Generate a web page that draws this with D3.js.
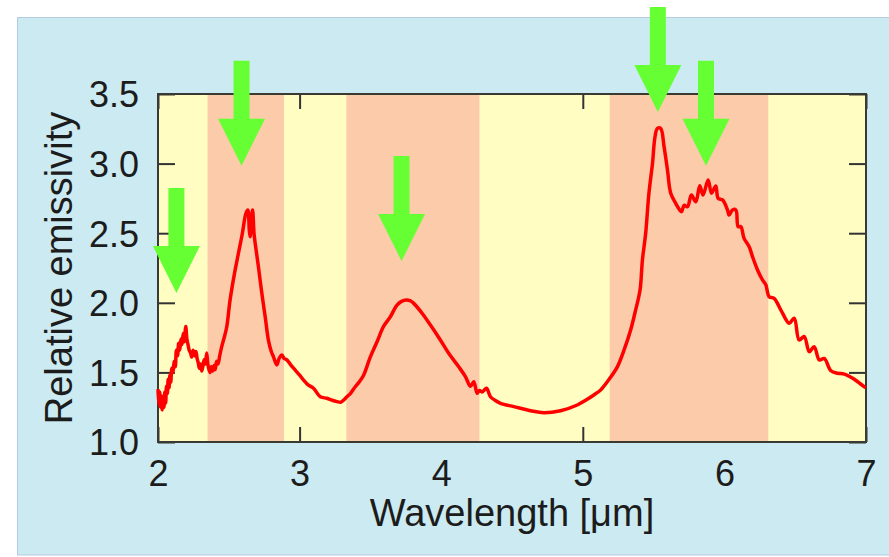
<!DOCTYPE html>
<html>
<head>
<meta charset="utf-8">
<script src="https://cdn.jsdelivr.net/npm/d3@7"></script>
<style>
  html, body { margin: 0; padding: 0; background: #ffffff; }
  svg { display: block; }
  text { font-family: "Liberation Sans", Arial, Helvetica, sans-serif; fill: #1c1c1c; }
</style>
</head>
<body>
<svg id="chart" width="889" height="557"></svg>
<script>
// ---- data ----
const wavelength = [
  2.000, 2.006, 2.012, 2.018, 2.024, 2.030, 2.036, 2.042, 2.048, 2.054,
  2.060, 2.066, 2.072, 2.078, 2.084, 2.090, 2.098, 2.106, 2.114, 2.122,
  2.130, 2.138, 2.146, 2.154, 2.162, 2.170, 2.178, 2.186, 2.196, 2.204,
  2.212, 2.220, 2.230, 2.238, 2.248, 2.258, 2.268, 2.276, 2.284, 2.292,
  2.300, 2.309, 2.318, 2.326, 2.334, 2.344, 2.352, 2.360, 2.368, 2.376,
  2.386, 2.396, 2.404, 2.414, 2.424, 2.436, 2.450, 2.470, 2.486, 2.509,
  2.540, 2.568, 2.596, 2.620, 2.634, 2.645, 2.651, 2.660, 2.668, 2.678,
  2.686, 2.709, 2.733, 2.757, 2.780, 2.800, 2.815, 2.839, 2.855, 2.875,
  2.891, 2.910, 2.940, 2.969, 3.000, 3.028, 3.060, 3.098, 3.146, 3.193,
  3.230, 3.264, 3.290, 3.310, 3.334, 3.360, 3.393, 3.420, 3.452, 3.499,
  3.547, 3.593, 3.641, 3.688, 3.720, 3.754, 3.780, 3.806, 3.865, 3.924,
  3.994, 4.053, 4.124, 4.171, 4.207, 4.230, 4.254, 4.270, 4.289, 4.320,
  4.348, 4.380, 4.419, 4.513, 4.631, 4.725, 4.843, 4.961, 5.020, 5.078,
  5.126, 5.173, 5.244, 5.291, 5.338, 5.373, 5.404, 5.421, 5.444, 5.467,
  5.492, 5.510, 5.527, 5.550, 5.574, 5.598, 5.621, 5.656, 5.697, 5.715,
  5.739, 5.767, 5.798, 5.826, 5.849, 5.885, 5.909, 5.939, 5.956, 5.987,
  6.022, 6.033, 6.057, 6.081, 6.097, 6.116, 6.139, 6.175, 6.199, 6.234,
  6.269, 6.293, 6.316, 6.351, 6.399, 6.458, 6.493, 6.528, 6.564, 6.599,
  6.634, 6.670, 6.705, 6.752, 6.800, 6.847, 6.906, 6.941, 6.988, 7.000
];
const emissivity = [
  1.38, 1.27, 1.36, 1.25, 1.33, 1.23, 1.30, 1.25, 1.36, 1.28,
  1.40, 1.35, 1.45, 1.39, 1.48, 1.43, 1.53, 1.50, 1.58, 1.54,
  1.66, 1.62, 1.71, 1.66, 1.74, 1.70, 1.78, 1.72, 1.83, 1.74,
  1.70, 1.66, 1.64, 1.61, 1.66, 1.62, 1.65, 1.60, 1.57, 1.53,
  1.56, 1.51, 1.55, 1.59, 1.56, 1.64, 1.56, 1.52, 1.50, 1.54,
  1.51, 1.55, 1.52, 1.58, 1.56, 1.62, 1.685, 1.76, 1.83, 2.02,
  2.21, 2.356, 2.50, 2.64, 2.667, 2.52, 2.475, 2.60, 2.667, 2.50,
  2.43, 2.26, 2.07, 1.90, 1.73, 1.65, 1.613, 1.553, 1.60, 1.625,
  1.60, 1.59, 1.55, 1.517, 1.48, 1.445, 1.41, 1.386, 1.325, 1.314,
  1.30, 1.29, 1.285, 1.30, 1.325, 1.35, 1.397, 1.43, 1.48, 1.61,
  1.72, 1.83, 1.90, 1.984, 2.01, 2.02, 2.015, 1.996, 1.925, 1.84,
  1.733, 1.637, 1.54, 1.47, 1.40, 1.433, 1.35, 1.37, 1.36, 1.386,
  1.325, 1.30, 1.278, 1.254, 1.225, 1.21, 1.225, 1.266, 1.30, 1.338,
  1.374, 1.433, 1.54, 1.66, 1.805, 1.948, 2.09, 2.307, 2.50, 2.787,
  3.00, 3.193, 3.253, 3.253, 3.12, 2.954, 2.787, 2.715, 2.654, 2.70,
  2.69, 2.774, 2.726, 2.84, 2.774, 2.882, 2.787, 2.84, 2.75, 2.739,
  2.667, 2.63, 2.667, 2.667, 2.547, 2.547, 2.463, 2.403, 2.33, 2.236,
  2.164, 2.128, 2.044, 2.032, 1.948, 1.853, 1.889, 1.733, 1.757, 1.649,
  1.685, 1.589, 1.60, 1.512, 1.494, 1.488, 1.458, 1.433, 1.397, 1.39
];
const bandStart = [2.35, 3.33, 5.19];
const bandEnd   = [2.89, 4.27, 6.31];
const arrowX = [2.13, 2.59, 3.72, 5.53, 5.87];
const arrowY = [2.07, 2.985, 2.30, 3.37, 2.985];
const xTicks = [2, 3, 4, 5, 6, 7];
const yTicks = [1.0, 1.5, 2.0, 2.5, 3.0, 3.5];
const xTitle = "Wavelength [μm]";
const yTitle = "Relative emissivity";

// ---- layout ----
const W = 889, H = 557;
const L = 158, T = 94, R = 866, B = 442;
const svg = d3.select("#chart");

const x = d3.scaleLinear().domain([2, 7]).range([L, R]);
const y = d3.scaleLinear().domain([1.0, 3.5]).range([B, T]);

// panel
svg.append("rect").attr("x", 17.5).attr("y", 17.5).attr("width", W - 17).attr("height", 537.5)
  .attr("fill", "#cbeaf1").attr("stroke", "#b7cbe0").attr("stroke-width", 1);

// plot background
svg.append("rect").attr("x", L).attr("y", T).attr("width", R - L).attr("height", B - T)
  .attr("fill", "#fffdc2");

// ticks (drawn below the bands)
const tickStyle = g => {
  g.select(".domain").remove();
  g.selectAll(".tick line").attr("stroke", "#333").attr("stroke-width", 2);
};
svg.append("g").attr("transform", `translate(0,${B})`)
  .call(d3.axisBottom(x).tickValues(xTicks).tickSize(-15).tickFormat(""))
  .call(tickStyle);
svg.append("g").attr("transform", `translate(0,${T})`)
  .call(d3.axisTop(x).tickValues(xTicks).tickSize(-15).tickFormat(""))
  .call(tickStyle);
svg.append("g").attr("transform", `translate(${L},0)`)
  .call(d3.axisLeft(y).tickValues(yTicks).tickSize(-17).tickFormat(""))
  .call(tickStyle);
svg.append("g").attr("transform", `translate(${R},0)`)
  .call(d3.axisRight(y).tickValues(yTicks).tickSize(-17).tickFormat(""))
  .call(tickStyle);

// bands
svg.append("g").selectAll("rect").data(bandStart).join("rect")
  .attr("x", d => x(d))
  .attr("y", T)
  .attr("width", (d, i) => x(bandEnd[i]) - x(d))
  .attr("height", B - T)
  .attr("fill", "#fccbaa");

// frame
svg.append("rect").attr("x", L).attr("y", T).attr("width", R - L).attr("height", B - T)
  .attr("fill", "none").attr("stroke", "#3a3a34").attr("stroke-width", 2);

// line
const pts = wavelength.map((w, i) => [w, emissivity[i]]);
svg.append("path")
  .datum(pts)
  .attr("fill", "none")
  .attr("stroke", "#ff0000")
  .attr("stroke-width", 3.5)
  .attr("stroke-linejoin", "round")
  .attr("d", d3.line().curve(d3.curveCatmullRom.alpha(0.5)).x(d => x(d[0])).y(d => y(d[1])));

// arrows
const headH = 47, headHalf = 23.5, shaftHalf = 8, shaftLen = 58;
svg.append("g").selectAll("path").data(arrowX).join("path")
  .attr("fill", "#66ff33")
  .attr("d", (d, i) => {
    const tx = x(d), ty = y(arrowY[i]);
    const hy = ty - headH, sy = hy - shaftLen;
    return `M${tx},${ty} L${tx - headHalf},${hy} L${tx - shaftHalf},${hy} L${tx - shaftHalf},${sy} ` +
           `L${tx + shaftHalf},${sy} L${tx + shaftHalf},${hy} L${tx + headHalf},${hy} Z`;
  });

// tick labels
svg.append("g").attr("transform", `translate(0,${B})`)
  .call(d3.axisBottom(x).tickValues(xTicks).tickSize(0).tickPadding(18).tickFormat(d3.format("d")))
  .call(g => g.select(".domain").remove())
  .call(g => g.selectAll("text").attr("font-size", 36).attr("fill", "#1c1c1c")
      .attr("font-family", '"Liberation Sans", Arial, sans-serif'));
svg.append("g").attr("transform", `translate(${L},0)`)
  .call(d3.axisLeft(y).tickValues(yTicks).tickSize(0).tickPadding(19).tickFormat(d3.format(".1f")))
  .call(g => g.select(".domain").remove())
  .call(g => g.selectAll("text").attr("font-size", 36).attr("dy", "0.36em").attr("fill", "#1c1c1c")
      .attr("font-family", '"Liberation Sans", Arial, sans-serif'));

// axis titles
svg.append("text").attr("x", (L + R) / 2).attr("y", 526)
  .attr("text-anchor", "middle").attr("font-size", 38).text(xTitle);
svg.append("text")
  .attr("transform", `translate(72,${(T + B) / 2}) rotate(-90)`)
  .attr("text-anchor", "middle").attr("font-size", 38).text(yTitle);
</script>
</body>
</html>
